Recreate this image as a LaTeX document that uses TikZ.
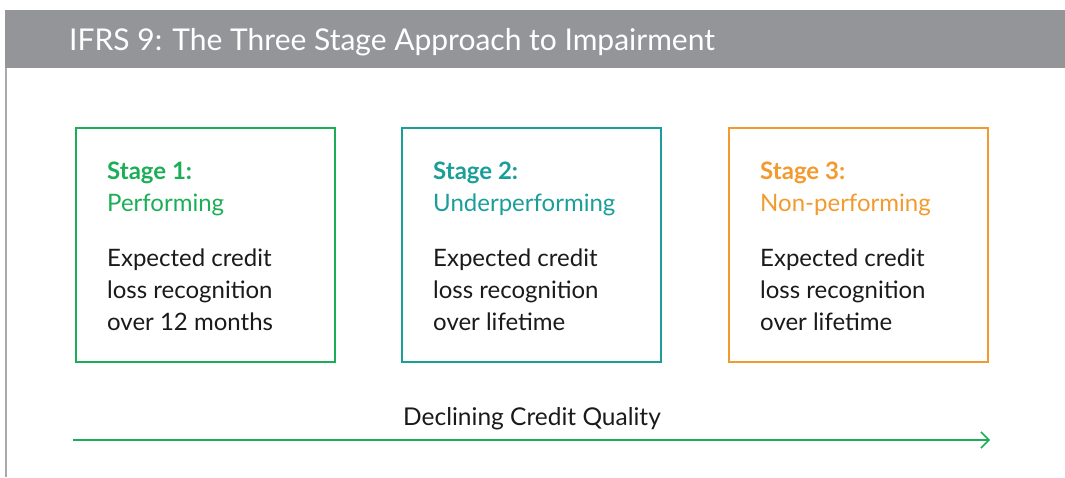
\documentclass[tikz,border=0pt]{standalone}
\usepackage{fontspec}
\setmainfont{Lato}
\usetikzlibrary{arrows.meta}
\definecolor{hdrgray}{HTML}{939598}
\definecolor{edgegray}{HTML}{A7A9AC}
\definecolor{sgreen}{HTML}{1BAE57}
\definecolor{steal}{HTML}{1A9E98}
\definecolor{sorange}{HTML}{F29A2E}
\definecolor{bodytext}{HTML}{1A1A1A}
\tikzset{
  stagebox/.style={draw=#1, line width=1.6pt, minimum width=259pt, minimum height=234pt, anchor=north west},
  stagetext/.style={anchor=north west, align=left, font=\fontsize{24}{32}\selectfont, text=bodytext, inner sep=0pt},
}
\begin{document}
\begin{tikzpicture}[x=1pt,y=-1pt]
\useasboundingbox (0,0) rectangle (1065,477);
% header band and left rule
\fill[hdrgray] (5,10) rectangle (1065,68);
\draw[edgegray, line width=1.5pt] (6,68) -- (6,477);
\node[anchor=west, text=white, font=\fontsize{30}{34}\selectfont, inner sep=0pt] (title) at (69,42) {IFRS 9: The Three Stage Approach to Impairment};
% stage boxes
\node[stagebox=sgreen] (b1) at (75,127) {};
\node[stagebox=steal] (b2) at (401,127) {};
\node[stagebox=sorange] (b3) at (728,127) {};
\node[stagetext] (t1) at (107,161.5) {\textcolor{sgreen}{\textbf{Stage 1:}}\\\textcolor{sgreen}{Performing}\\[23pt]Expected credit\\loss recognition\\over 12 months};
\node[stagetext] (t2) at (433,161.5) {\textcolor{steal}{\textbf{Stage 2:}}\\\textcolor{steal}{Underperforming}\\[23pt]Expected credit\\loss recognition\\over lifetime};
\node[stagetext] (t3) at (760,161.5) {\textcolor{sorange}{\textbf{Stage 3:}}\\\textcolor{sorange}{Non-performing}\\[23pt]Expected credit\\loss recognition\\over lifetime};
% quality axis
\coordinate (a0) at (73,440);
\coordinate (a1) at (990,440);
\draw[sgreen, line width=1.5pt, -{Straight Barb[length=8pt,width=16pt,line width=1.5pt]}] (a0) -- (a1);
\node[font=\fontsize{24.5}{28}\selectfont, text=bodytext] (axlabel) at (532,419) {Declining Credit Quality};
\end{tikzpicture}
\end{document}
